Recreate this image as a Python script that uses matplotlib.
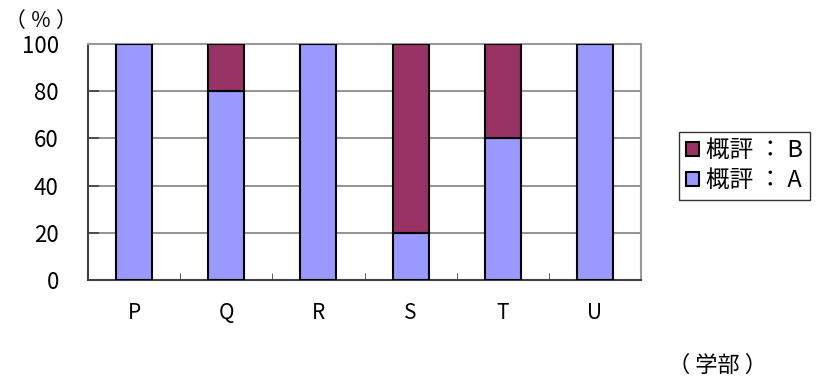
import matplotlib
matplotlib.use("Agg")
import matplotlib.pyplot as plt
import numpy as np

plt.rcParams["font.family"] = ["Noto Sans CJK JP", "DejaVu Sans"]

faculties = ["P", "Q", "R", "S", "T", "U"]
grade_a = [100, 80, 100, 20, 60, 100]
grade_b = [0, 20, 0, 80, 40, 0]
yticks = [0, 20, 40, 60, 80, 100]

COLOR_A = "#9999FF"
COLOR_B = "#993366"

fig = plt.figure(figsize=(8.21, 3.77), dpi=100)
ax = fig.add_axes([0.1072, 0.2573, 0.6736, 0.626])

x = np.arange(len(faculties))
ax.bar(x, grade_a, width=0.39, color=COLOR_A, edgecolor="black", linewidth=1.5,
       label="概評 ： A", zorder=3)
ax.bar(x, grade_b, width=0.39, bottom=grade_a, color=COLOR_B, edgecolor="black",
       linewidth=1.5, label="概評 ： B", zorder=3)

ax.set_xlim(-0.5, len(faculties) - 0.5)
ax.set_ylim(0, 100)
ax.set_yticks(yticks)
ax.set_yticklabels([str(v) for v in yticks], fontsize=16)
ax.yaxis.grid(True, color="#808080", linewidth=1.2, zorder=0)

# category labels centred, tick marks between categories
ax.set_xticks(x)
ax.set_xticklabels(faculties, fontsize=15)
ax.tick_params(axis="x", length=0, pad=16)
ax.set_xticks(np.arange(0.5, len(faculties) - 0.5), minor=True)
ax.tick_params(axis="x", which="minor", direction="in", length=5, color="#404040")
ax.tick_params(axis="y", direction="in", length=8, width=1.2, color="#404040", pad=21)

for side in ["top", "right"]:
    ax.spines[side].set_color("#999999")
    ax.spines[side].set_linewidth(1.5)
for side in ["left", "bottom"]:
    ax.spines[side].set_color("#404040")
    ax.spines[side].set_linewidth(1.5)

h, l = ax.get_legend_handles_labels()
leg = fig.legend(h[::-1], l[::-1], loc="center left", bbox_to_anchor=(0.827, 0.56),
                 fontsize=17, frameon=True, fancybox=False, edgecolor="black",
                 handlelength=0.55, handleheight=0.55, handletextpad=0.3,
                 borderpad=0.3, labelspacing=0.3, borderaxespad=0)
leg.get_frame().set_linewidth(1.0)

fig.text(0.006, 0.945, "（ ％ ）", fontsize=15, ha="left", va="center")
fig.text(0.814, 0.03, "（ 学部 ）", fontsize=16, ha="left", va="center")

fig.savefig("out.png", dpi=100)
